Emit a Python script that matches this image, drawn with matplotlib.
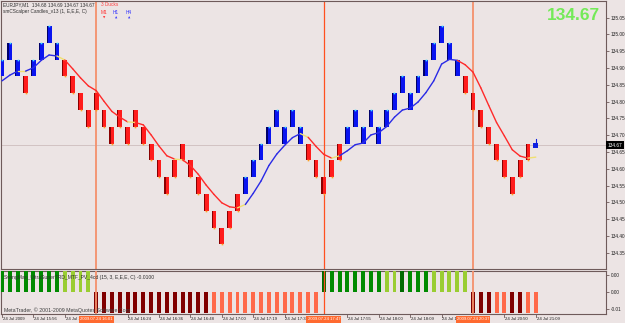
import numpy as np
import matplotlib.pyplot as plt
from matplotlib.patches import Rectangle
import matplotlib.transforms as mtransforms

plt.rcParams['font.family'] = ['Liberation Sans', 'DejaVu Sans']

# renko bricks: top price of each brick (box 0.05) and colour code
box = 0.05
brick_top = [134.925, 134.975, 134.925, 134.875, 134.925, 134.975, 135.025, 134.975,
             134.925, 134.875, 134.825, 134.775, 134.825, 134.775, 134.725, 134.775,
             134.725, 134.775, 134.725, 134.675, 134.625, 134.575, 134.625, 134.675,
             134.625, 134.575, 134.525, 134.475, 134.425, 134.475, 134.525, 134.575,
             134.625, 134.675, 134.725, 134.775, 134.725, 134.775, 134.725, 134.675,
             134.625, 134.575, 134.625, 134.675, 134.725, 134.775, 134.725, 134.775,
             134.725, 134.775, 134.825, 134.875, 134.825, 134.875, 134.925, 134.975,
             135.025, 134.975, 134.925, 134.875, 134.825, 134.775, 134.725, 134.675,
             134.625, 134.575, 134.625, 134.675]
brick_col = list('bbbrbbbb' + 'r' * 23 + 'b' * 8 + 'r' * 5 + 'b' * 15 + 'r' * 9)

# scalper moving average, one value per bar (69 bars incl. current one)
ma = [134.862, 134.879, 134.891, 134.891, 134.901, 134.923, 134.939, 134.936,
      134.924, 134.898, 134.871, 134.847, 134.833, 134.801, 134.771, 134.754,
      134.740, 134.738, 134.731, 134.701, 134.668, 134.639, 134.629, 134.627,
      134.610, 134.584, 134.552, 134.524, 134.499, 134.487, 134.484, 134.494,
      134.527, 134.564, 134.610, 134.644, 134.670, 134.693, 134.705, 134.694,
      134.667, 134.643, 134.632, 134.639, 134.654, 134.672, 134.677, 134.701,
      134.708, 134.726, 134.754, 134.775, 134.781, 134.799, 134.827, 134.862,
      134.912, 134.926, 134.923, 134.910, 134.888, 134.841, 134.789, 134.738,
      134.698, 134.657, 134.638, 134.632, 134.635]
# colour of each segment between bars (b=up, r=down, y=flat)
ma_seg = list('bbyb' + 'bbby' + 'r' * 8 + 'y' + 'r' * 5 + 'y' + 'r' * 7 + 'y'
              + 'b' * 7 + 'y' + 'rrr' + 'y' + 'b' * 15 + 'r' * 9 + 'y')

# histogram of the lower indicator
ind_val = [0.005] * 12 + [-0.005] * 29 + [0.005] * 19 + [-0.005] * 9
ind_col = (['g'] * 8 + ['l'] * 4 + ['d'] * 15 + ['s'] * 14 + ['G'] + ['g'] * 7
           + ['l'] * 2 + ['G'] + ['g'] * 3 + ['l'] * 5 + ['d'] * 3 + ['s'] * 2
           + ['d'] * 2 + ['s'] * 2)

price_ticks = [135.05, 135.00, 134.95, 134.90, 134.85, 134.80, 134.75, 134.70,
               134.65, 134.60, 134.55, 134.50, 134.45, 134.40, 134.35]
last_price = 134.67

vlines = [13, 42, 61]
vline_col = ['#F4906C', '#FF5020', '#F4906C']
vline_lab = ['2009.07.24 16:01', '2009.07.24 17:47', '2009.07.24 20:37']

time_ticks = [1, 5, 9, 17, 21, 25, 29, 33, 37, 45, 49, 53, 57, 65, 69]
time_lab = ['24 Jul 2009', '24 Jul 15:56', '24 Jul 16:01', '24 Jul 16:24',
            '24 Jul 16:36', '24 Jul 16:48', '24 Jul 17:00', '24 Jul 17:19',
            '24 Jul 17:33', '24 Jul 17:55', '24 Jul 18:00', '24 Jul 18:09',
            '24 Jul 18:40', '24 Jul 20:50', '24 Jul 21:09']

bg = '#ECE4E4'
frame = '#6E5A5A'
cols = {'b': '#0A14F0', 'r': '#FF1C1C'}
dark = {'b': '#00006A', 'r': '#8A0000'}
seg_cols = {'b': '#2A2AE6', 'r': '#FF2A2A', 'y': '#F0E070'}
hist_cols = {'g': '#008A00', 'G': '#006A00', 'l': '#9ACD32', 'd': '#800000', 's': '#FF6A4A'}
fs = 3.4

fig = plt.figure(figsize=(6.25, 3.23), dpi=100, facecolor=bg)
W, H = 625.0, 323.0
ax = fig.add_axes([1 / W, 1 - 269 / H, 605 / W, 268 / H], facecolor=bg)
ax2 = fig.add_axes([1 / W, 1 - 314 / H, 605 / W, 43 / H], facecolor=bg, sharex=ax)

n = len(brick_top)
xs = np.arange(1, n + 1)
bw = 0.62
for i in range(n):
    c = brick_col[i]
    ax.add_patch(Rectangle((xs[i] - bw / 2, brick_top[i] - box), bw, box,
                           facecolor=cols[c], edgecolor='none', zorder=3))
    ax.add_patch(Rectangle((xs[i] - bw / 2, brick_top[i] - box), 0.14, box,
                           facecolor=dark[c], edgecolor='none', zorder=3))
    if c == 'b':
        ax.plot(xs[i], brick_top[i], 's', ms=1.2, color='#40E0FF', mew=0, zorder=4)
    else:
        ax.plot(xs[i], brick_top[i] - box, 's', ms=1.2, color='#FFA020', mew=0, zorder=4)

# current (forming) bar
ax.add_patch(Rectangle((n + 1 - 0.3, last_price - 0.008), 0.6, 0.014,
                       facecolor='#1020E0', edgecolor='none', zorder=3))
ax.plot([n + 1, n + 1], [last_price, last_price + 0.02], color='#1020E0', lw=0.8, zorder=3)

mx = np.arange(1, len(ma) + 1)
for i in range(len(ma) - 1):
    ax.plot(mx[i:i + 2], ma[i:i + 2], color=seg_cols[ma_seg[i]], lw=1.0, zorder=5,
            solid_capstyle='round')

ax.axhline(last_price, color='#CDBDBD', lw=0.6, zorder=1)

ax.set_xlim(1 - 1 / 7.85, 1 - 1 / 7.85 + 605 / 7.85)
ax.set_ylim(134.302, 135.0997)
ax.yaxis.tick_right()
ax.set_yticks(price_ticks)
ax.set_yticklabels([f'{v:.2f}' for v in price_ticks])
ax.tick_params(axis='y', direction='out', length=2, width=0.6, color=frame,
               labelsize=fs, pad=1.2, labelcolor='#202020')
ax.tick_params(axis='x', bottom=False, labelbottom=False)
for s in ax.spines.values():
    s.set_color(frame)
    s.set_linewidth(0.8)

ax.text(1.003, last_price, f'{last_price:.2f}', transform=ax.get_yaxis_transform(),
        fontsize=fs, color='white', va='center', ha='left', zorder=10,
        bbox=dict(boxstyle='square,pad=0.3', facecolor='black', edgecolor='none'))

# lower indicator
ix = np.arange(1, len(ind_val) + 1)
ax2.bar(ix, ind_val, width=0.5, color=[hist_cols[c] for c in ind_col], zorder=3)
ax2.set_ylim(-0.0052, 0.0048)
ax2.yaxis.tick_right()
ax2.set_yticks([0.0038, 0.0, -0.0041])
ax2.set_yticklabels(['0.00', '0.00', '-0.01'])
ax2.tick_params(axis='y', direction='out', length=2, width=0.6, color=frame,
                labelsize=fs, pad=1.2, labelcolor='#202020')
ax2.tick_params(axis='x', bottom=False, labelbottom=False)
for s in ax2.spines.values():
    s.set_color(frame)
    s.set_linewidth(0.8)

for v, c in zip(vlines, vline_col):
    ax.axvline(v, color=c, lw=1.3 if c != '#FF5020' else 0.9, zorder=2)
    ax2.axvline(v, color=c, lw=1.3 if c != '#FF5020' else 0.9, zorder=4)

# texts
fig.text(3 / W, 1 - 5 / H, 'EURJPY,M1  134.68 134.69 134.67 134.67', fontsize=fs,
         color='#303030', va='center')
fig.text(3 / W, 1 - 12 / H, 'smCScalper Candles_v13 (1, E,E,E, C)', fontsize=fs,
         color='#303030', va='center')
fig.text(101 / W, 1 - 5 / H, '3 Ducks', fontsize=fs, color='#FF4040', va='center')
for xp, lab, c, m in [(101, 'M1', '#FF3030', 'v'), (113, 'H1', '#3030FF', '^'),
                      (126, 'H4', '#3030FF', '^')]:
    fig.text(xp / W, 1 - 12 / H, lab, fontsize=fs, color=c, va='center')
    fig.text((xp + 1.5) / W, 1 - 17.5 / H, '\u25bc' if m == 'v' else '\u25b2',
             fontsize=2.2, color=c, va='center', family='DejaVu Sans')
fig.text(600 / W, 1 - 15 / H, f'{last_price:.2f}', fontsize=12.5, weight='bold',
         color='#74EA58', ha='right', va='center')

ax2.text(0.005, 0.86, 'SwingMan_UltraSuperTRD_MTF_PV_4cd (15, 3, E,E,E, C) -0.0100',
         transform=ax2.transAxes, fontsize=3.6, color='#303030', va='center', zorder=6)
ax2.text(0.005, 0.08, 'MetaTrader, \u00a9 2001-2009 MetaQuotes Software Corp.',
         transform=ax2.transAxes, fontsize=3.8, color='#404040', va='center', zorder=6)

tr = mtransforms.blended_transform_factory(ax2.transData, fig.transFigure)
for t, lab in zip(time_ticks, time_lab):
    fig.lines.append(plt.Line2D([t, t], [1 - 314 / H, 1 - 316.5 / H], transform=tr,
                                color=frame, lw=0.6))
    fig.text(t + 0.1, 1 - 319.5 / H, lab, transform=tr, fontsize=3.1,
             color='#202020', va='center', ha='left')
for v, lab in zip(vlines, vline_lab):
    fig.text(v, 1 - 319.5 / H, lab, transform=tr, fontsize=3.1, color='white',
             va='center', ha='center',
             bbox=dict(boxstyle='square,pad=0.25', facecolor='#FF6A30', edgecolor='none'))

fig.savefig('out.png', dpi=100, facecolor=bg)
